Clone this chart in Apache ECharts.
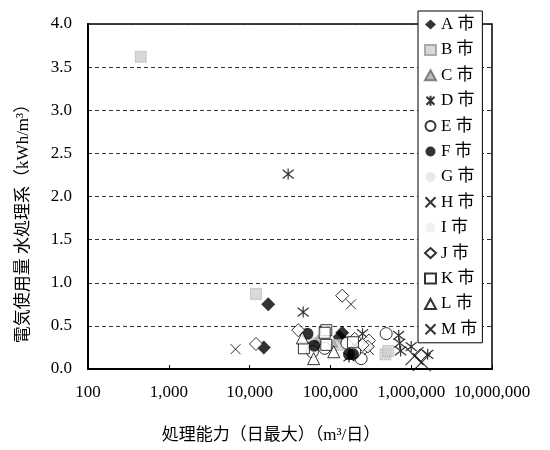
<!DOCTYPE html>
<html><head><meta charset="utf-8">
<script src="https://cdn.jsdelivr.net/npm/echarts@6/dist/echarts.min.js"></script>
<style>html,body{margin:0;padding:0;background:#fff}#c{width:550px;height:450px}</style>
</head><body><div id="c"></div>
<script>
const cities = ['A 市','B 市','C 市','D 市','E 市','F 市','G 市','H 市','I 市','J 市','K 市','L 市','M 市'];
const xTicks = [100, 1000, 10000, 100000, 1000000, 10000000];
const yAxisName = '電気使用量 水処理系（kWh/m³）';
const xAxisName = '処理能力（日最大）（m³/日）';
// [処理能力 m3/日, kWh/m3]
const dataA = [[17000,0.75],[15000,0.25],[140000,0.42],[130000,0.37]];
const dataB = [[450,3.62],[12000,0.87],[63000,0.30],[130000,0.28],[480000,0.17],[520000,0.21]];
const dataC = [[70000,0.35],[200000,0.22],[110000,0.30]];
const dataD = [[30000,2.26],[46000,0.66],[250000,0.41],[700000,0.39],[720000,0.30],[740000,0.21],[1000000,0.26],[1600000,0.17],[170000,0.14]];
const dataE = [[240000,0.12],[490000,0.41],[85000,0.24],[60000,0.20],[160000,0.30],[200000,0.20]];
const dataF = [[52000,0.41],[63000,0.27],[170000,0.17],[190000,0.17]];
const dataG = [[120000,0.22],[300000,0.30]];
const dataH = [[6700,0.23],[180000,0.75],[300000,0.22]];
const dataI = [[280,0.51],[90000,0.25]];
const dataJ = [[12000,0.29],[140000,0.85],[40000,0.45],[300000,0.33],[290000,0.26],[1300000,0.16],[200000,0.35],[250000,0.28]];
const dataK = [[47000,0.24],[89000,0.45],[89000,0.28],[85000,0.42],[190000,0.31]];
const dataL = [[62000,0.12],[45000,0.36],[110000,0.20]];
const dataM = [[1100000,0.15],[1350000,0.08]];

const FONT = "'Liberation Serif','Noto Sans CJK JP',serif";
const star = 'path://M1,1 L9,9 M9,1 L1,9 M5,0 L5,10';
const cross = 'path://M0,0 L10,10 M10,0 L0,10';
const styles = [
  {symbol:'diamond', size:14, item:{color:'#000'}},
  {symbol:'rect', size:11, item:{color:'#d0d0d0', borderColor:'#999', borderWidth:1, borderType:'dotted'}},
  {symbol:'triangle', size:8, item:{color:'#aaa', borderColor:'#666', borderWidth:0.5}},
  {symbol:star, size:11, item:{color:'none', borderColor:'#000', borderWidth:1.2}},
  {symbol:'circle', size:12, item:{color:'#fff', borderColor:'#000', borderWidth:1}},
  {symbol:'circle', size:12, item:{color:'#000'}},
  {symbol:'circle', size:3, item:{color:'#ccc'}},
  {symbol:cross, size:10, item:{color:'none', borderColor:'#000', borderWidth:1}},
  {symbol:'circle', size:2.5, item:{color:'#ddd'}},
  {symbol:'diamond', size:13, item:{color:'#fff', borderColor:'#000', borderWidth:1}},
  {symbol:'rect', size:11, item:{color:'#fff', borderColor:'#000', borderWidth:1}},
  {symbol:'triangle', size:12, item:{color:'#fff', borderColor:'#000', borderWidth:1}},
  {symbol:cross, size:18, item:{color:'none', borderColor:'#000', borderWidth:1.2}}
];
const legendFaint = {6:'#e4e4e4', 8:'#eeeeee'};
const allData = [dataA,dataB,dataC,dataD,dataE,dataF,dataG,dataH,dataI,dataJ,dataK,dataL,dataM];

const chart = echarts.init(document.getElementById('c'), null, {renderer:'canvas'});
chart.setOption({
  animation:false,
  backgroundColor:'#fff',
  grid:{left:88, right:58, top:24, bottom:81, show:true, borderColor:'#000', borderWidth:1.5, backgroundColor:'transparent'},
  legend:{
    orient:'vertical', left:418, top:11,
    data:cities.map((n,i)=>legendFaint[i]?{name:n, itemStyle:{color:legendFaint[i]}}:{name:n}),
    itemWidth:11, itemHeight:10, itemGap:8.4,
    padding:[5,5,5,5],
    backgroundColor:'#fff', borderColor:'#000', borderWidth:1,
    textStyle:{fontFamily:FONT, fontSize:17, color:'#000', padding:[0,0,0,0]}
  },
  xAxis:{
    type:'log', logBase:10, min:xTicks[0], max:xTicks[xTicks.length-1],
    name:xAxisName, nameLocation:'middle', nameGap:58,
    nameTextStyle:{fontFamily:FONT, fontSize:17, color:'#000', padding:[0,38,0,0]},
    axisLine:{lineStyle:{color:'#000', width:2}},
    axisTick:{inside:true, length:4, lineStyle:{color:'#000'}},
    minorTick:{show:false},
    splitLine:{show:false},
    axisLabel:{fontFamily:FONT, fontSize:17, color:'#000', margin:15,
      formatter:v=>Math.round(v).toLocaleString('en-US')}
  },
  yAxis:{
    type:'value', min:0, max:4, interval:0.5,
    name:yAxisName, nameLocation:'middle', nameGap:56, nameRotate:90,
    nameTextStyle:{fontFamily:FONT, fontSize:17, color:'#000', padding:[0,46,0,0]},
    axisLine:{show:true, lineStyle:{color:'#000', width:2}},
    axisTick:{show:false},
    splitLine:{show:true, lineStyle:{color:'#333', type:[4,3], width:1}},
    axisLabel:{fontFamily:FONT, fontSize:17, color:'#000', margin:16, formatter:v=>v.toFixed(1)}
  },
  series: cities.map((n,i)=>({
    name:n, type:'scatter', data:allData[i],
    symbol:styles[i].symbol, symbolSize:styles[i].size,
    itemStyle:styles[i].item, z:3
  }))
});
</script></body></html>
